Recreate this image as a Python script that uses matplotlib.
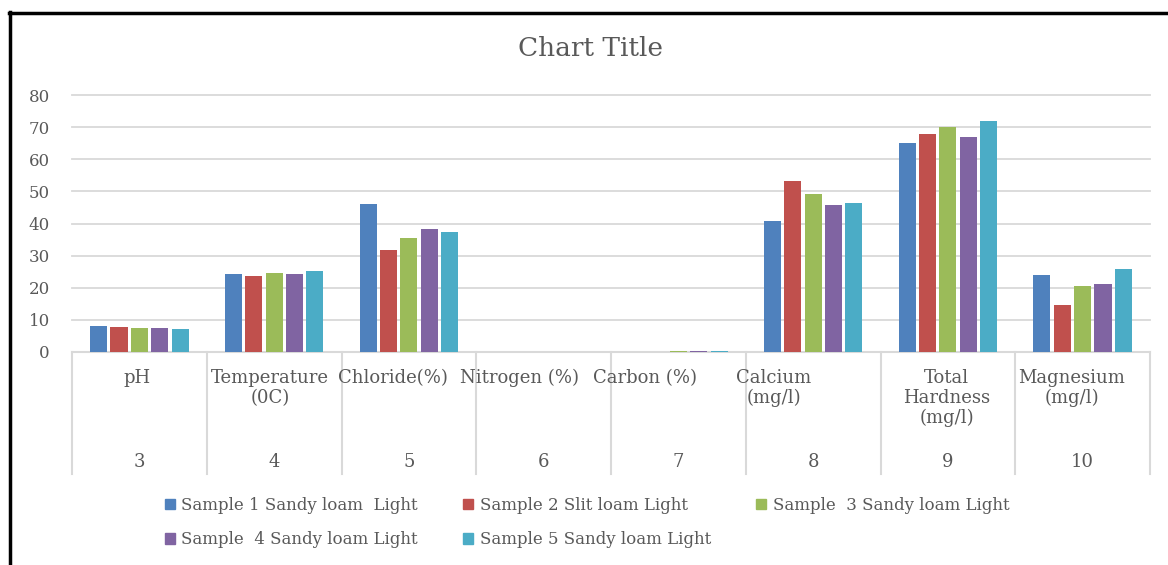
import matplotlib
matplotlib.use("Agg")
import matplotlib.pyplot as plt
from matplotlib.lines import Line2D
import numpy as np

categories = ["pH", "Temperature\n(0C)", "Chloride(%)", "Nitrogen (%)", "Carbon (%)",
              "Calcium\n(mg/l)", "Total\nHardness\n(mg/l)", "Magnesium\n(mg/l)"]
numbers = ["3", "4", "5", "6", "7", "8", "9", "10"]
series_names = ["Sample 1 Sandy loam  Light", "Sample 2 Slit loam Light",
                "Sample  3 Sandy loam Light", "Sample  4 Sandy loam Light",
                "Sample 5 Sandy loam Light"]
sample1 = [8.0, 24.2, 46.1, 0.0, 0.0, 40.8, 65.1, 24.0]
sample2 = [7.8, 23.8, 31.8, 0.0, 0.0, 53.3, 67.9, 14.6]
sample3 = [7.4, 24.6, 35.5, 0.0, 0.2, 49.2, 70.1, 20.6]
sample4 = [7.5, 24.3, 38.3, 0.0, 0.2, 45.8, 67.0, 21.2]
sample5 = [7.3, 25.3, 37.4, 0.0, 0.2, 46.4, 72.0, 25.9]
yticks = [0, 10, 20, 30, 40, 50, 60, 70, 80]

colors = ["#4F81BD", "#C0504D", "#9BBB59", "#8064A2", "#4BACC6"]
text_color = "#595959"
grid_color = "#D9D9D9"
serif = ["DejaVu Serif"]

W, H = 1168, 565
fig = plt.figure(figsize=(W / 100, H / 100), dpi=100)
ax = fig.add_axes([72 / W, (H - 352) / H, 1078 / W, 257 / H])

x = np.arange(len(categories))
data = [sample1, sample2, sample3, sample4, sample5]
pitch = 0.151
bw = 0.127
handles = []
for i, (vals, c, name) in enumerate(zip(data, colors, series_names)):
    bars = ax.bar(x + (i - 2) * pitch, vals, width=bw, color=c, label=name, zorder=3)
    handles.append(bars)

ax.set_xlim(-0.5, len(categories) - 0.5)
ax.set_ylim(0, 80)
ax.set_yticks(yticks)
ax.set_yticklabels([str(t) for t in yticks], family=serif, fontsize=12, color=text_color)
ax.tick_params(axis="y", length=0, pad=16)
ax.set_xticks([])
for t in yticks[1:]:
    ax.axhline(t, color=grid_color, lw=1.3, zorder=1, clip_on=False)
for s in ax.spines.values():
    s.set_visible(False)

# category box
trans = ax.get_xaxis_transform()
ax.plot([-0.5, len(categories) - 0.5], [0, 0], transform=trans, color=grid_color,
        lw=1.5, clip_on=False, zorder=2)
for b in np.arange(-0.5, len(categories), 1.0):
    ax.plot([b, b], [0, -122 / 257], transform=trans, color=grid_color, lw=1.5,
            clip_on=False)

label_offsets = [-0.02, -0.03, -0.12, -0.18, -0.25, -0.29, -0.01, -0.08]
for xi, lab, num, off in zip(x, categories, numbers, label_offsets):
    ax.text(xi + off, -17 / 257, lab, transform=trans, ha="center", va="top",
            family=serif, fontsize=13, color=text_color, linespacing=1.15)
    ax.text(xi, -110 / 257, num, transform=trans, ha="center", va="center",
            family=serif, fontsize=13, color=text_color)

fig.text(590 / W, 1 - 48 / H, "Chart Title", ha="center", va="center",
         family=serif, fontsize=19, color=text_color)

# row-major legend order (matplotlib fills column-first)
order = [0, 3, 1, 4, 2]
leg_handles = [plt.Rectangle((0, 0), 1, 1, color=colors[k]) for k in order]
leg_labels = [series_names[k] for k in order]
leg = fig.legend(leg_handles, leg_labels, loc="upper left", ncol=3,
                 bbox_to_anchor=(158 / W, 1 - 490 / H), frameon=False,
                 prop={"family": serif, "size": 12}, handlelength=0.6,
                 handleheight=0.6, handletextpad=0.4, columnspacing=2.7,
                 labelspacing=1.05, borderaxespad=0)
for t in leg.get_texts():
    t.set_color(text_color)

# outer frame
fig.add_artist(Line2D([9.5 / W, 9.5 / W], [0, 1 - 12 / H], color="black", lw=2.5,
                      transform=fig.transFigure))
fig.add_artist(Line2D([8.5 / W, 1], [1 - 13 / H, 1 - 13 / H], color="black", lw=2.5,
                      transform=fig.transFigure))

fig.savefig("out.png", dpi=100)
